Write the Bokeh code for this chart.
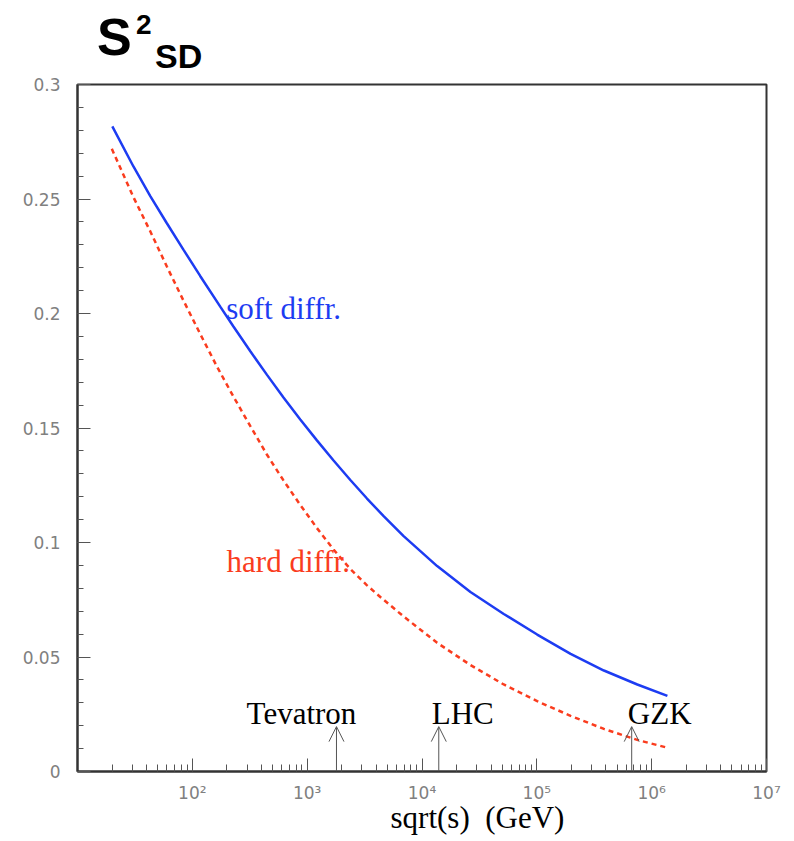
import numpy as np
from bokeh.plotting import figure
from bokeh.layouts import column
from bokeh.models import (ColumnDataSource, FixedTicker, Label, Arrow, OpenHead, Title, Div)
from bokeh.core.properties import value
from bokeh.embed import file_html
from bokeh.resources import INLINE

# ---- data ----
soft_sqrt_s = [20.1, 30.7, 42.9, 60.0, 83.6, 117, 175, 228, 321, 447, 622, 871, 1216,
               1698, 2377, 3319, 4634, 6918, 13550, 26420, 51520, 100700, 196800,
               383700, 749900, 1371000]
soft_s2 = [0.2817, 0.2642, 0.2514, 0.2394, 0.2279, 0.2164, 0.2030, 0.1943, 0.1834,
           0.1732, 0.1633, 0.1537, 0.1446, 0.1358, 0.1273, 0.1192, 0.1115, 0.1028,
           0.0897, 0.0784, 0.0688, 0.0598, 0.0514, 0.0441, 0.0380, 0.0330]

hard_sqrt_s = [19.9, 30.7, 42.9, 60.0, 83.6, 117, 164, 228, 321, 447, 622, 871, 1216,
               1698, 2377, 3319, 4335, 6918, 13550, 26420, 51520, 100700, 196800,
               383700, 749900, 1371000]
hard_s2 = [0.2719, 0.2508, 0.2360, 0.2205, 0.2057, 0.1911, 0.1768, 0.1637, 0.1507,
           0.1383, 0.1271, 0.1164, 0.1063, 0.0969, 0.0884, 0.0813, 0.0762, 0.0677,
           0.0562, 0.0465, 0.0380, 0.0307, 0.0243, 0.0186, 0.0138, 0.0104]

marker_names = ["Tevatron", "LHC", "GZK"]
marker_sqrt_s = [1800, 14000, 670000]
marker_height = [0.0196, 0.0196, 0.0196]
marker_label_dx = [-35, 24, 28]

x_major = [1e2, 1e3, 1e4, 1e5, 1e6, 1e7]
x_tick_labels = ["10²", "10³", "10⁴", "10⁵", "10⁶", "10⁷"]
y_major = [0, 0.05, 0.1, 0.15, 0.2, 0.25, 0.3]
y_tick_labels = ["0", "0.05", "0.1", "0.15", "0.2", "0.25", "0.3"]

BLUE = "#1d3cf2"
RED = "#fa3c1e"
TICK_FONT = "DejaVu Sans"
SERIF = "Liberation Serif"

# ---- title S^2_SD (HTML text above the plot) ----
span = "position:absolute;line-height:1;white-space:nowrap;"
title_html = (
    '<div style="position:relative;width:300px;height:72px;'
    'font-family:\'Liberation Sans\';font-weight:bold;color:black;">'
    f'<span style="{span}left:97px;top:10.5px;font-size:52px;">S</span>'
    f'<span style="{span}left:136px;top:10.5px;font-size:28px;">2</span>'
    f'<span style="{span}left:155px;top:39.2px;font-size:34px;">SD</span>'
    '</div>'
)
title_div = Div(text=title_html, width=300, height=72, margin=(0, 0, 0, 0))

p = figure(frame_width=689, frame_height=687, x_axis_type="log",
           x_range=(10, 1e7), y_range=(0, 0.3),
           output_backend="svg", toolbar_location=None,
           min_border_left=77, min_border_right=28,
           min_border_top=12, min_border_bottom=64,
           margin=(0, 0, 0, 0))
p.grid.visible = False
p.background_fill_color = "white"
p.border_fill_color = "white"
p.outline_line_color = "#333333"
p.outline_line_width = 2

# x axis
x_minor = [m * 10.0 ** d for d in range(1, 7) for m in range(2, 10)]
p.xaxis.ticker = FixedTicker(ticks=x_major, minor_ticks=x_minor)
p.xaxis.major_label_overrides = {int(t): lab for t, lab in zip(x_major, x_tick_labels)}
# y axis
y_minor = [round(v, 2) for v in np.arange(0, 0.3001, 0.01)]
p.yaxis.ticker = FixedTicker(ticks=y_major, minor_ticks=y_minor)
p.yaxis.major_label_overrides = {t: lab for t, lab in zip(y_major, y_tick_labels)}

for ax in (p.xaxis, p.yaxis):
    ax.axis_line_color = "#333333"
    ax.axis_line_width = 2
    ax.major_tick_in = 13
    ax.major_tick_out = 0
    ax.minor_tick_in = 7
    ax.minor_tick_out = 0
    ax.major_tick_line_color = "#555555"
    ax.minor_tick_line_color = "#555555"
    ax.major_label_text_font = TICK_FONT
    ax.major_label_text_font_size = "17px"
    ax.major_label_text_color = "#808080"
p.yaxis.minor_tick_in = 6
p.xaxis.major_label_standoff = 11
p.yaxis.major_label_standoff = 17

# x axis title
p.add_layout(Title(text="sqrt(s) \u00a0(GeV)", align="left", offset=313, standoff=-12,
                   vertical_align="top", text_font=SERIF, text_font_size="31px",
                   text_font_style="normal", text_color="black"), "below")

# curves
p.line(soft_sqrt_s, soft_s2, line_color=BLUE, line_width=2.5)
p.line(hard_sqrt_s, hard_s2, line_color=RED, line_width=2.5, line_dash="5 4")

p.add_layout(Label(x=197, y=0.2020, text="soft diffr.", text_color=BLUE,
                   text_font=SERIF, text_font_size="31px", text_baseline="alphabetic"))
p.add_layout(Label(x=198.6, y=0.0918, text="hard diffr.", text_color=RED,
                   text_font=SERIF, text_font_size="31px", text_baseline="alphabetic"))

# markers
msrc = ColumnDataSource(dict(x=marker_sqrt_s, y0=[0] * len(marker_sqrt_s),
                             y=marker_height, name=marker_names, dx=marker_label_dx))
p.add_layout(Arrow(end=OpenHead(size=15, line_color="#555555", line_width=1),
                   x_start="x", y_start="y0", x_end="x", y_end="y",
                   line_color="#555555", line_width=1, source=msrc))
p.text(x="x", y="y", text="name", x_offset="dx", y_offset=-13, source=msrc,
       text_align="center", text_baseline="alphabetic",
       text_font=value(SERIF), text_font_size="31px", text_color="black")

layout = column(title_div, p, spacing=0, margin=(0, 0, 0, 0))
open("out.html", "w").write(file_html(layout, INLINE))
